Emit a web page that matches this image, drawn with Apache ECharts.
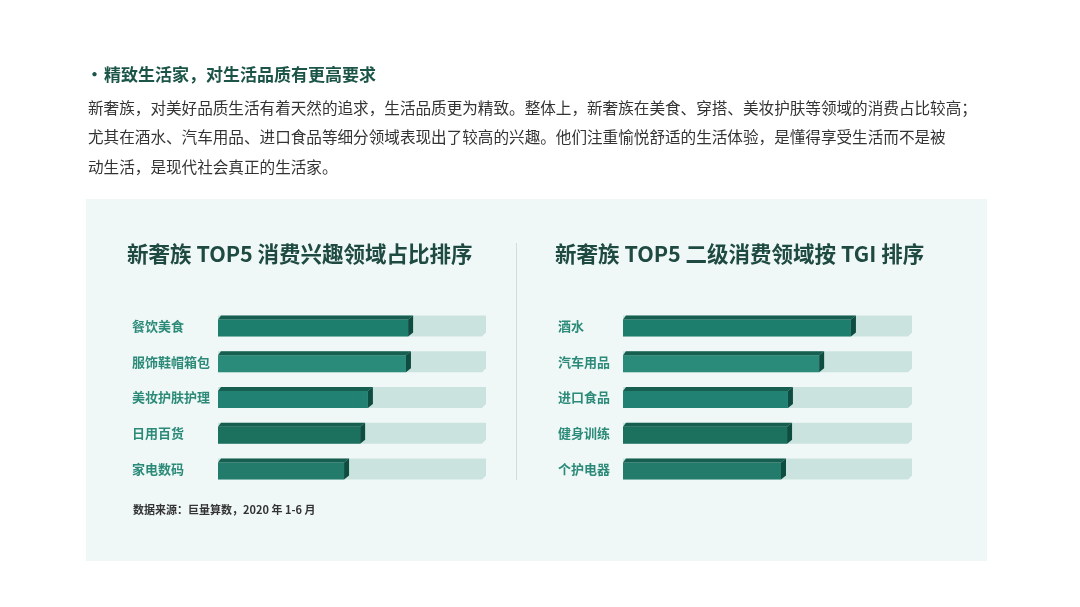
<!DOCTYPE html>
<html>
<head>
<meta charset="utf-8">
<script src="https://cdn.jsdelivr.net/npm/echarts@6/dist/echarts.min.js"></script>
<style>
  html, body { margin: 0; padding: 0; background: #fff; }
  #main { width: 1080px; height: 607px; }
</style>
</head>
<body>
<div id="main"></div>
<script>
// 数据
const leftCats = ['餐饮美食', '服饰鞋帽箱包', '美妆护肤护理', '日用百货', '家电数码'];
const leftValues = [72.8, 72.0, 57.8, 54.9, 48.9];
const rightCats = ['酒水', '汽车用品', '进口食品', '健身训练', '个护电器'];
const rightValues = [80.6, 69.6, 58.8, 58.5, 56.4];
const trackMax = 100;

const headline = '精致生活家，对生活品质有更高要求';
const paragraph = [
    '新奢族，对美好品质生活有着天然的追求，生活品质更为精致。整体上，新奢族在美食、穿搭、美妆护肤等领域的消费占比较高；',
    '尤其在酒水、汽车用品、进口食品等细分领域表现出了较高的兴趣。他们注重愉悦舒适的生活体验，是懂得享受生活而不是被',
    '动生活，是现代社会真正的生活家。'
];
const leftTitle = '新奢族 TOP5 消费兴趣领域占比排序';
const rightTitle = '新奢族 TOP5 二级消费领域按 TGI 排序';
const sourceNote = '数据来源：巨量算数，2020 年 1-6 月';

// 样式
const FONT = '"Noto Sans CJK SC", "Noto Sans", sans-serif';
const frontColors = ['#1e7e6d', '#2b8b7a', '#218172', '#1b705e', '#237c6b'];
const topColor = '#155e50';
const sideColor = '#0f4c40';
const trackColor = '#cbe3df';

// 立体柱子
function barItem(params, api) {
    const v = api.value(0);
    const i = api.value(1);
    const s = api.coord([0, i]);
    const e = api.coord([v, i]);
    const cy = s[1];
    const x0 = s[0];
    const x1 = e[0] - 5;
    const top = cy - 6.5, bot = cy + 10.5, dy = 4, dx = 5;
    return {
        type: 'group',
        children: [
            { type: 'polygon', shape: { points: [[x0, top], [x1, top], [x1, bot], [x0, bot]] },
              style: { fill: frontColors[i % frontColors.length] } },
            { type: 'polygon', shape: { points: [[x0, top], [x0 + 3, top - dy], [x1 + dx, top - dy], [x1, top]] },
              style: { fill: topColor } },
            { type: 'polygon', shape: { points: [[x1, top], [x1 + dx, top - dy], [x1 + dx, bot - 4], [x1, bot]] },
              style: { fill: sideColor } }
        ]
    };
}

// 背景槽
function trackItem(params, api) {
    const v = api.value(0);
    const i = api.value(1);
    const s = api.coord([0, i]);
    const e = api.coord([v, i]);
    const cy = s[1];
    const x0 = s[0], x1 = e[0];
    const top = cy - 10.5, bot = cy + 10.5;
    return {
        type: 'polygon',
        shape: { points: [[x0, top], [x1, top], [x1, bot - 4], [x1 - 4, bot], [x0, bot]] },
        style: { fill: trackColor }
    };
}

function textEl(text, x, y, size, weight, color) {
    return {
        type: 'text', x: x, y: y, z: 10,
        style: { text: text, fontSize: size, fontWeight: weight, fontFamily: FONT, fill: color, verticalAlign: 'middle' }
    };
}

const chart = echarts.init(document.getElementById('main'));

const graphic = [
    { type: 'rect', z: -10, shape: { x: 86, y: 199, width: 901, height: 362 }, style: { fill: '#eff8f7' } },
    { type: 'line', z: 1, shape: { x1: 516.5, y1: 243, x2: 516.5, y2: 480 }, style: { stroke: '#d3dcda', lineWidth: 1 } },
    textEl('•', 86, 75, 17, 'bold', '#1c5548'),
    textEl(headline, 104, 75, 17, 'bold', '#1c5548'),
    textEl(leftTitle, 127, 254, 21.5, 'bold', '#1f4a41'),
    textEl(rightTitle, 555, 254, 21.5, 'bold', '#1f4a41'),
    textEl(sourceNote, 133, 510, 11, 'bold', '#333333')
];
paragraph.forEach(function (line, k) {
    graphic.push(textEl(line, 88, 108 + k * 29.5, 15.6, 'normal', '#333333'));
});

function catAxis(gi, cats, margin) {
    return {
        type: 'category', gridIndex: gi, data: cats, inverse: true,
        axisLine: { show: false }, axisTick: { show: false },
        axisLabel: { align: 'left', margin: margin, fontSize: 13, fontWeight: 'bold', color: '#2c8a79', fontFamily: FONT }
    };
}

chart.setOption({
    backgroundColor: '#ffffff',
    animation: false,
    graphic: graphic,
    grid: [
        { left: 218, width: 268, top: 308, height: 179 },
        { left: 623, width: 289, top: 308, height: 179 }
    ],
    xAxis: [
        { type: 'value', gridIndex: 0, min: 0, max: trackMax, show: false },
        { type: 'value', gridIndex: 1, min: 0, max: trackMax, show: false }
    ],
    yAxis: [catAxis(0, leftCats, 86), catAxis(1, rightCats, 65)],
    series: [
        { type: 'custom', xAxisIndex: 0, yAxisIndex: 0, renderItem: trackItem, encode: { x: 0, y: 1 },
          data: leftCats.map(function (c, i) { return [trackMax, i]; }), z: 1 },
        { type: 'custom', xAxisIndex: 0, yAxisIndex: 0, renderItem: barItem, encode: { x: 0, y: 1 },
          data: leftValues.map(function (v, i) { return [v, i]; }), z: 2 },
        { type: 'custom', xAxisIndex: 1, yAxisIndex: 1, renderItem: trackItem, encode: { x: 0, y: 1 },
          data: rightCats.map(function (c, i) { return [trackMax, i]; }), z: 1 },
        { type: 'custom', xAxisIndex: 1, yAxisIndex: 1, renderItem: barItem, encode: { x: 0, y: 1 },
          data: rightValues.map(function (v, i) { return [v, i]; }), z: 2 }
    ]
});
</script>
</body>
</html>
